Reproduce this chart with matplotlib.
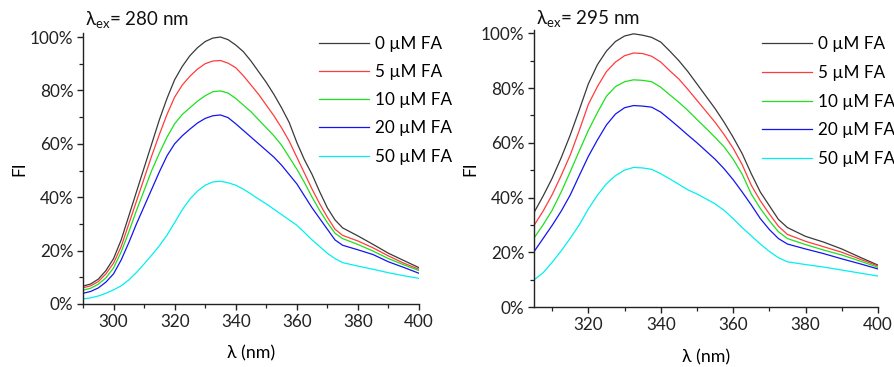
import matplotlib
matplotlib.use("Agg")
import matplotlib.pyplot as plt
from matplotlib.ticker import MultipleLocator, PercentFormatter
import numpy as np

plt.rcParams['font.family'] = ['Lato', 'DejaVu Sans']
plt.rcParams['mathtext.fontset'] = 'custom'
plt.rcParams['mathtext.rm'] = 'Lato'

labels = ['0 µM FA', '5 µM FA', '10 µM FA', '20 µM FA', '50 µM FA']
colors = ['#3a3a3a', '#ff3c3c', '#1ee01e', '#1414f0', '#00f0f0']

# Panel A: excitation 280 nm
wl_a = [290, 292.5, 295, 297.5, 300, 302.5, 305, 307.5, 310, 312.5, 315, 317.5,
        320, 322.5, 325, 327.5, 330, 332.5, 335, 337.5, 340, 342.5, 345, 347.5,
        350, 352.5, 355, 357.5, 360, 362.5, 365, 367.5, 370, 372.5, 375,
        380, 385, 390, 395, 400]
a_0 = [6.7, 7.5, 9.3, 12.5, 17, 24, 33, 42, 51, 60, 69, 77,
       84, 89, 93, 96, 98.3, 99.6, 100, 99, 97, 94.5, 91, 87,
       83, 78.5, 73.5, 68, 60.5, 54, 48.5, 42, 36, 31.5, 28.5,
       25.5, 22.3, 19, 16.3, 13.6]
a_5 = [6.1, 6.8, 8.4, 11.3, 15.3, 21.5, 30, 38.5, 47, 55.5, 63.5, 71,
       77.5, 82, 85.3, 88, 90, 91, 91.2, 90.2, 88.5, 85.5, 82, 78.5,
       74.5, 70.5, 66, 61, 55, 49, 43, 37.5, 32.5, 28, 25.7,
       23.6, 21, 18, 15.3, 13]
a_10 = [5.2, 5.9, 7.4, 9.8, 13.5, 19.5, 27, 35, 42.5, 50, 56.5, 62.5,
        67.5, 71, 73.5, 76, 78, 79.5, 79.8, 79, 77, 74.5, 72, 69,
        66, 63, 59.5, 55, 50.5, 45.5, 40, 35, 30.5, 26.5, 24.5,
        22.3, 19.8, 17, 14.7, 12.5]
a_20 = [4, 4.7, 6, 8.2, 11.3, 16.5, 23, 30, 36.5, 43, 49.5, 55.5,
        60, 63, 65.5, 67.8, 69.5, 70.5, 70.8, 69.8, 67.5, 65, 62.5, 60,
        57.5, 55, 52, 48.5, 45, 40.5, 36, 32, 28, 24, 22,
        20.3, 18.5, 15.8, 13.7, 11.5]
a_50 = [1.9, 2.3, 3, 4, 5.3, 6.8, 9, 11.8, 15, 18.3, 21.8, 25.8,
        30.5, 35.3, 39.3, 42.3, 44.5, 45.7, 46, 45.4, 44.5, 43, 41.2, 39.3,
        37.5, 35.5, 33.5, 31.5, 29.5, 26.8, 24, 21.5, 19, 17, 15.5,
        14.2, 13, 11.7, 10.6, 9.6]

# Panel B: excitation 295 nm
wl_b = [305, 307.5, 310, 312.5, 315, 317.5, 320, 322.5, 325, 327.5, 330, 332.5,
        335, 337.5, 340, 342.5, 345, 347.5, 350, 352.5, 355, 357.5, 360, 362.5,
        365, 367.5, 370, 372.5, 375, 380, 385, 390, 395, 400]
b_0 = [34.5, 40.5, 47, 54.5, 62.8, 72, 81.5, 88.5, 93.5, 97, 99, 99.8,
       99.3, 98.5, 96.8, 93.5, 90, 86, 81.5, 77, 72.5, 67.5, 62, 56,
       48.7, 42, 37, 32, 29, 25.8, 23.7, 21.2, 18.2, 15.3]
b_5 = [29.8, 35, 41, 48, 55.5, 64.5, 74, 80.5, 86, 89.5, 91.8, 92.8,
       92.6, 91.6, 89.5, 86.3, 83.3, 79.5, 75.5, 71.5, 67.5, 63, 58, 52,
       44.5, 38.8, 34, 29.5, 26.5, 24, 22, 20, 17.5, 15]
b_10 = [25.2, 30, 35.3, 42, 49.4, 57, 64.5, 71, 77, 80.5, 82.3, 83,
        82.8, 82.3, 80.3, 77.5, 74.8, 71.8, 68.5, 65.3, 62, 58.5, 54, 48.5,
        41.3, 36, 31.5, 27.5, 25, 22.8, 20.8, 19, 16.8, 14.5]
b_20 = [20.2, 25, 29.8, 35, 40.9, 48, 55, 61, 66.5, 70.5, 72.8, 73.6,
        73.4, 73, 71.2, 68.5, 65.7, 62.8, 60, 57, 54, 50.5, 46.5, 42,
        37.3, 32.3, 28.3, 25, 23, 21.2, 19.5, 17.6, 15.8, 13.9]
b_50 = [9.9, 12.5, 16.3, 20.5, 25.1, 30, 35.8, 40.8, 45, 48, 50, 51,
        50.8, 50.3, 48.7, 46.8, 44.8, 42.8, 41.3, 39.5, 37.7, 35.3, 32.3, 29,
        26, 23, 20.3, 18, 16.5, 15.5, 14.6, 13.5, 12.4, 11.3]

W, H = 894, 367
fig = plt.figure(figsize=(W / 100, H / 100), dpi=100)

def px_axes(x0, x1, y_top, y_bot):
    return fig.add_axes([x0 / W, 1 - y_bot / H, (x1 - x0) / W, (y_bot - y_top) / H])

ax1 = px_axes(83, 419, 33, 304)
ax2 = px_axes(534, 878, 30, 307)

panels = [
    (ax1, wl_a, [a_0, a_5, a_10, a_20, a_50], (290, 400), 'λ$_{\\mathregular{ex}}$= 280 nm', 1.015, 1.026),
    (ax2, wl_b, [b_0, b_5, b_10, b_20, b_50], (305, 400), 'λ$_{\\mathregular{ex}}$= 295 nm', 1.012, 1.018),
]

for ax, wl, series, xlim, title, ytop, ty in panels:
    for ys, c, lab in zip(series, colors, labels):
        ax.plot(wl, np.array(ys) / 100.0, color=c, lw=0.9, label=lab)
    ax.set_xlim(*xlim)
    ax.set_ylim(0, ytop)
    ax.xaxis.set_major_locator(MultipleLocator(20))
    ax.xaxis.set_minor_locator(MultipleLocator(10))
    ax.yaxis.set_major_locator(MultipleLocator(0.2))
    ax.yaxis.set_minor_locator(MultipleLocator(0.1))
    ax.yaxis.set_major_formatter(PercentFormatter(1.0, decimals=0))
    for s in ['top', 'right']:
        ax.spines[s].set_visible(False)
    for s in ['left', 'bottom']:
        ax.spines[s].set_color('#222222')
        ax.spines[s].set_linewidth(1.0)
    ax.tick_params(which='major', direction='out', length=4, width=1.0,
                   labelsize=12.3, colors='#222222', pad=3)
    ax.tick_params(which='minor', direction='out', length=3, width=0.9, colors='#222222')
    ax.patch.set_alpha(0)
    ax.text(0.005, ty, title, transform=ax.transAxes, fontsize=13.5,
            ha='left', va='baseline', color='#111111')

ax1.set_xlabel('λ (nm)', fontsize=12.8, labelpad=11)
ax2.set_xlabel('λ (nm)', fontsize=12.8, labelpad=12)
ax1.set_ylabel('FI', fontsize=12.3, labelpad=1.5)
ax2.set_ylabel('FI', fontsize=12.3, labelpad=1.5)

leg_kw = dict(frameon=False, fontsize=12.3, handlelength=2.95, handletextpad=0.3,
              borderpad=0, borderaxespad=0, loc='upper left')
ax1.legend(bbox_to_anchor=((319 - 83) / 336, (304 - 36) / 271), labelspacing=0.71, **leg_kw)
ax2.legend(bbox_to_anchor=((762 - 534) / 344, (307 - 36) / 277), labelspacing=0.75, **leg_kw)

fig.savefig('out.png', dpi=100, facecolor='white')
